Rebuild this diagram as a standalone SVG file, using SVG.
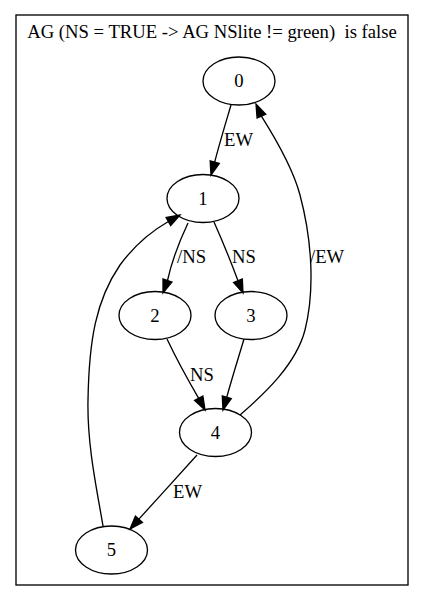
<svg xmlns="http://www.w3.org/2000/svg" width="424" height="601" viewBox="0 0 424 601">
<style>
  .bg { fill: #ffffff; }
  .frame { fill: none; stroke: #000; stroke-width: 1.33; }
  .node ellipse { fill: none; stroke: #000; stroke-width: 1.33; }
  text { font-family: "Liberation Serif", "Times New Roman", serif; font-size: 18.67px; fill: #000; }
  .nl { text-anchor: middle; }
  .edges path { fill: none; stroke: #000; stroke-width: 1.33; }
  .edges polygon { fill: #000; stroke: #000; stroke-width: 1.33; }
</style>
<rect class="bg" x="0" y="0" width="424" height="601"/>
<rect class="frame" x="16" y="15" width="392" height="570"/>
<text x="212" y="38" text-anchor="middle" xml:space="preserve">AG (NS = TRUE -&gt; AG NSlite != green)  is false</text>

<g id="edges" class="edges">
  <g id="e0_1">
    <path d="M231,105 C226,122 219,145 214.7,162.2"/>
    <polygon points="219.2,163.5 211,175 210.2,160.9"/>
    <text x="224" y="146">EW</text>
  </g>
  <g id="e1_2">
    <path d="M188,223 C180,240 172,260 167.5,280.5"/>
    <polygon points="171.9,282.1 163,293 163,278.9"/>
    <text x="177" y="263">/NS</text>
  </g>
  <g id="e1_3">
    <path d="M214,222 C222,240 231,262 238,280.7"/>
    <polygon points="242.3,278.9 243,293 233.6,282.5"/>
    <text x="232" y="263">NS</text>
  </g>
  <g id="e2_4">
    <path d="M167,339 C176,358 188,380 198.7,398.3"/>
    <polygon points="202.9,396.1 205,410 194.6,400.5"/>
    <text x="190" y="381">NS</text>
  </g>
  <g id="e3_4">
    <path d="M244,339 C239,356 232,378 226.8,397.2"/>
    <polygon points="231.3,398.6 223,410 222.3,395.9"/>
  </g>
  <g id="e4_5">
    <path d="M197,455 C180,474 158,498 138.9,519.1"/>
    <polygon points="142.4,522.3 130,529 135.4,516"/>
    <text x="173" y="498">EW</text>
  </g>
  <g id="e4_0">
    <path d="M240,415 C263,395 296,365 305,330 C315,290 312,240 300,195 C292,165 272,133 261.4,116.2"/>
    <polygon points="265.7,114.3 256,104 257.1,118.1"/>
    <text x="310" y="263">/EW</text>
  </g>
  <g id="e5_1">
    <path d="M103,526 C97,490 87,445 88,400 C89,340 96,300 120,265 C134,246 150,232 168.4,221.5"/>
    <polygon points="170.7,225.6 180,215 166.1,217.4"/>
  </g>
</g>

<g id="node0" class="node"><ellipse cx="239" cy="81" rx="36" ry="24"/><text class="nl" x="239" y="87">0</text></g>
<g id="node1" class="node"><ellipse cx="203" cy="198.5" rx="36" ry="24"/><text class="nl" x="203" y="204.5">1</text></g>
<g id="node2" class="node"><ellipse cx="155" cy="315.5" rx="36" ry="24"/><text class="nl" x="155" y="321.5">2</text></g>
<g id="node3" class="node"><ellipse cx="251" cy="315.5" rx="36" ry="24"/><text class="nl" x="251" y="321.5">3</text></g>
<g id="node4" class="node"><ellipse cx="215.5" cy="432.5" rx="36" ry="24"/><text class="nl" x="215.5" y="438.5">4</text></g>
<g id="node5" class="node"><ellipse cx="111.5" cy="550" rx="36" ry="24"/><text class="nl" x="111.5" y="556">5</text></g>
</svg>
